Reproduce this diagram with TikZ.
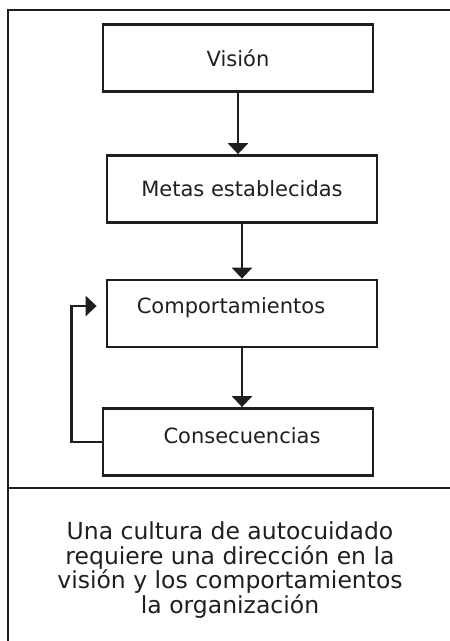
\documentclass[tikz,border=0pt]{standalone}
\usepackage{fontspec}
\setmainfont{DejaVu Sans}
\usetikzlibrary{calc}
\usetikzlibrary{arrows.meta}
\usetikzlibrary{positioning}
\tikzset{
	every path/.style={line width=2.8pt},
	align=center,
	box/.style={
		draw=black!88,
		rectangle,
		minimum width=270pt,
		minimum height=67pt,
		text=black!88,
		font=\fontsize{21}{25}\selectfont,
	},
	flow/.style={
		draw=black!88,
		-{Triangle[length=11pt,width=20pt]}
	},
	frame/.style={
		draw=black!88,
		line width=2.5pt,
	},
	note/.style={
		font=\fontsize{23.5}{24.5}\selectfont,
		text=black!88,
	},
}

\begin{document}
\begin{tikzpicture}[x=1pt,y=-1pt]
		\useasboundingbox (0,0) rectangle (450,641);

		% outer frame
		\draw[frame] (450,10) -- (8,10) -- (8,641);
		\draw[frame] (8,488) -- (450,488);

		\node[box]     			(vision) at (238,58) {Visión};
		\node[box]     			(metas) at (242,189) {Metas establecidas};
		\node[box,text depth=15pt]	(comp) at (242,313.5) {\hspace*{-22pt}Comportamientos};
		\node[box,text depth=12pt]	(cons) at (238,442) {\hspace*{8pt}Consecuencias};

		\draw[flow] 				(vision.south) -- (vision.south |- metas.north);
		\draw[flow] 				(metas) -- (comp);
		\draw[flow] 				(comp) -- (cons.north -| comp.south);

		\coordinate (back) at ([xshift=-9pt,yshift=7.5pt]comp.west);
		\draw[flow] 				(cons.west) -- ++(-30,0) |- (back);

		\node[note] 				(nota) at (230,570) {Una cultura de autocuidado\\requiere una dirección en la\\visión y los comportamientos\\la organización};

	\end{tikzpicture}
\end{document}
